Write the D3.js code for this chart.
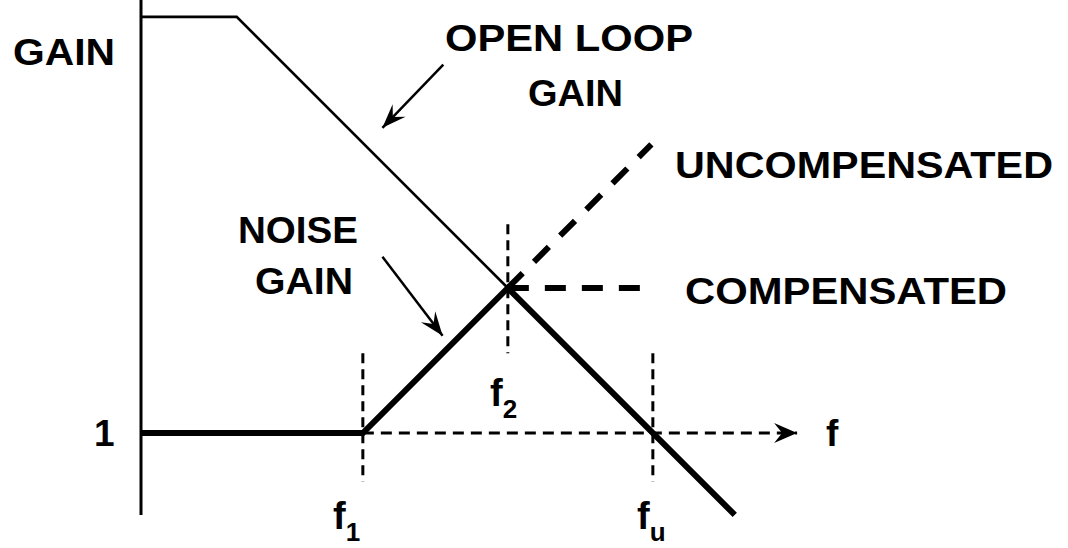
<!DOCTYPE html>
<html>
<head>
<meta charset="utf-8">
<script src="https://cdn.jsdelivr.net/npm/d3@7"></script>
<style>
  html, body { margin: 0; padding: 0; background: #fff; }
  svg { display: block; }
</style>
</head>
<body>
<svg id="chart"></svg>
<script>
// log-frequency / log-gain units (one decade per unit)
const breakFreqs = [3.06, 5.06, 7.06];       // f1, f2, fu
const breakSubs = ["1", "2", "u"];
const openLoopF = [0, 1.32, 5.06];
const openLoopG = [5.74, 5.74, 2.0];
const noiseF = [0, 3.06, 5.06, 8.19];
const noiseG = [0, 0, 2.0, -1.13];
const uncompF = [5.06, 7.04];
const uncompG = [2.0, 3.98];
const compF = [5.06, 6.95];
const compG = [2.0, 2.0];

const svgWidth = 1068;
const svgHeight = 548;
const unit = 72.5;

const svg = d3.select("#chart")
    .attr("width", svgWidth)
    .attr("height", svgHeight)
    .style("font-family", "'Liberation Sans', Arial, sans-serif")
    .style("font-weight", "bold");

svg.append("rect").attr("width", svgWidth).attr("height", svgHeight).attr("fill", "#fff");

const x = d3.scaleLinear().domain([0, 9]).range([141, 141 + 9 * unit]);
const y = d3.scaleLinear().domain([0, 6]).range([433, 433 - 6 * unit]);

const line = d3.line().x(d => x(d[0])).y(d => y(d[1]));
const pts = (fs, gs) => fs.map((f, i) => [f, gs[i]]);

const defs = svg.append("defs");
function marker(id, len, half, notch) {
    defs.append("marker")
        .attr("id", id)
        .attr("markerUnits", "userSpaceOnUse")
        .attr("viewBox", `${-len - 1} ${-half - 1} ${len + 2} ${half * 2 + 2}`)
        .attr("markerWidth", len + 2)
        .attr("markerHeight", half * 2 + 2)
        .attr("refX", 0).attr("refY", 0)
        .attr("orient", "auto")
        .append("path")
        .attr("d", `M0,0 L${-len},${-half} L${-notch},0 L${-len},${half} Z`)
        .attr("fill", "#000");
}
marker("axisHead", 23, 10, 15);
marker("noteHead", 24, 9, 15);

// vertical gain axis
svg.append("line")
    .attr("x1", x(0)).attr("x2", x(0))
    .attr("y1", y(5.98)).attr("y2", y(-1.13))
    .attr("stroke", "#000").attr("stroke-width", 3);

// frequency axis at unity gain (dashed, arrow)
svg.append("line")
    .attr("x1", x(breakFreqs[0])).attr("x2", x(9.05))
    .attr("y1", y(0)).attr("y2", y(0))
    .attr("stroke", "#000").attr("stroke-width", 3)
    .attr("stroke-dasharray", "11,7")
    .attr("marker-end", "url(#axisHead)");

// vertical dashed guides at the break frequencies
const guideSpans = [[1.1, -0.67], [2.88, 1.1], [1.1, -0.67]];
svg.selectAll(".guide")
    .data(breakFreqs)
    .enter().append("line")
    .attr("class", "guide")
    .attr("x1", d => x(d)).attr("x2", d => x(d))
    .attr("y1", (d, i) => y(guideSpans[i][0]))
    .attr("y2", (d, i) => y(guideSpans[i][1]))
    .attr("stroke", "#000").attr("stroke-width", 3)
    .attr("stroke-dasharray", "10,6");

// open loop gain (thin)
svg.append("path")
    .attr("d", line(pts(openLoopF, openLoopG)))
    .attr("fill", "none").attr("stroke", "#000").attr("stroke-width", 2.6)
    .attr("stroke-linejoin", "miter");

// noise gain (thick)
svg.append("path")
    .attr("d", line(pts(noiseF, noiseG)))
    .attr("fill", "none").attr("stroke", "#000").attr("stroke-width", 6)
    .attr("stroke-linejoin", "miter");

// uncompensated / compensated continuations
svg.append("path")
    .attr("d", line(pts(uncompF, uncompG)))
    .attr("fill", "none").attr("stroke", "#000").attr("stroke-width", 6)
    .attr("stroke-dasharray", "21,16");
svg.append("path")
    .attr("d", line(pts(compF, compG)))
    .attr("fill", "none").attr("stroke", "#000").attr("stroke-width", 6)
    .attr("stroke-dasharray", "21,16");

// annotation arrows
const arrows = [
    [[4.17, 5.08], [3.33, 4.21]],
    [[3.33, 2.43], [4.16, 1.34]]
];
svg.selectAll(".note-arrow")
    .data(arrows)
    .enter().append("line")
    .attr("class", "note-arrow")
    .attr("x1", d => x(d[0][0])).attr("y1", d => y(d[0][1]))
    .attr("x2", d => x(d[1][0])).attr("y2", d => y(d[1][1]))
    .attr("stroke", "#000").attr("stroke-width", 2.5)
    .attr("marker-end", "url(#noteHead)");

// text labels
const labels = [
    { t: "GAIN", x: 13, y: 65, w: 102 },
    { t: "OPEN LOOP", x: 445, y: 51, w: 248 },
    { t: "GAIN", x: 528, y: 106, w: 95 },
    { t: "UNCOMPENSATED", x: 675, y: 178, w: 378 },
    { t: "COMPENSATED", x: 685, y: 304, w: 322 },
    { t: "NOISE", x: 238, y: 243, w: 120 },
    { t: "GAIN", x: 255, y: 294, w: 98 },
    { t: "1", x: 94, y: 446, w: 0 },
    { t: "f", x: 826, y: 446, w: 0 }
];
labels.forEach(d => {
    const t = svg.append("text")
        .attr("x", d.x).attr("y", d.y)
        .style("font-size", "37px")
        .text(d.t);
    if (d.w) t.attr("textLength", d.w).attr("lengthAdjust", "spacingAndGlyphs");
});

// f1, f2, fu labels
const subPos = [[333, 529], [490, 406], [637, 529]];
breakSubs.forEach((s, i) => {
    const t = svg.append("text")
        .attr("x", subPos[i][0]).attr("y", subPos[i][1])
        .style("font-size", "38px");
    t.append("tspan").text("f");
    t.append("tspan").attr("dy", 12).style("font-size", "26px").text(s);
});
</script>
</body>
</html>
